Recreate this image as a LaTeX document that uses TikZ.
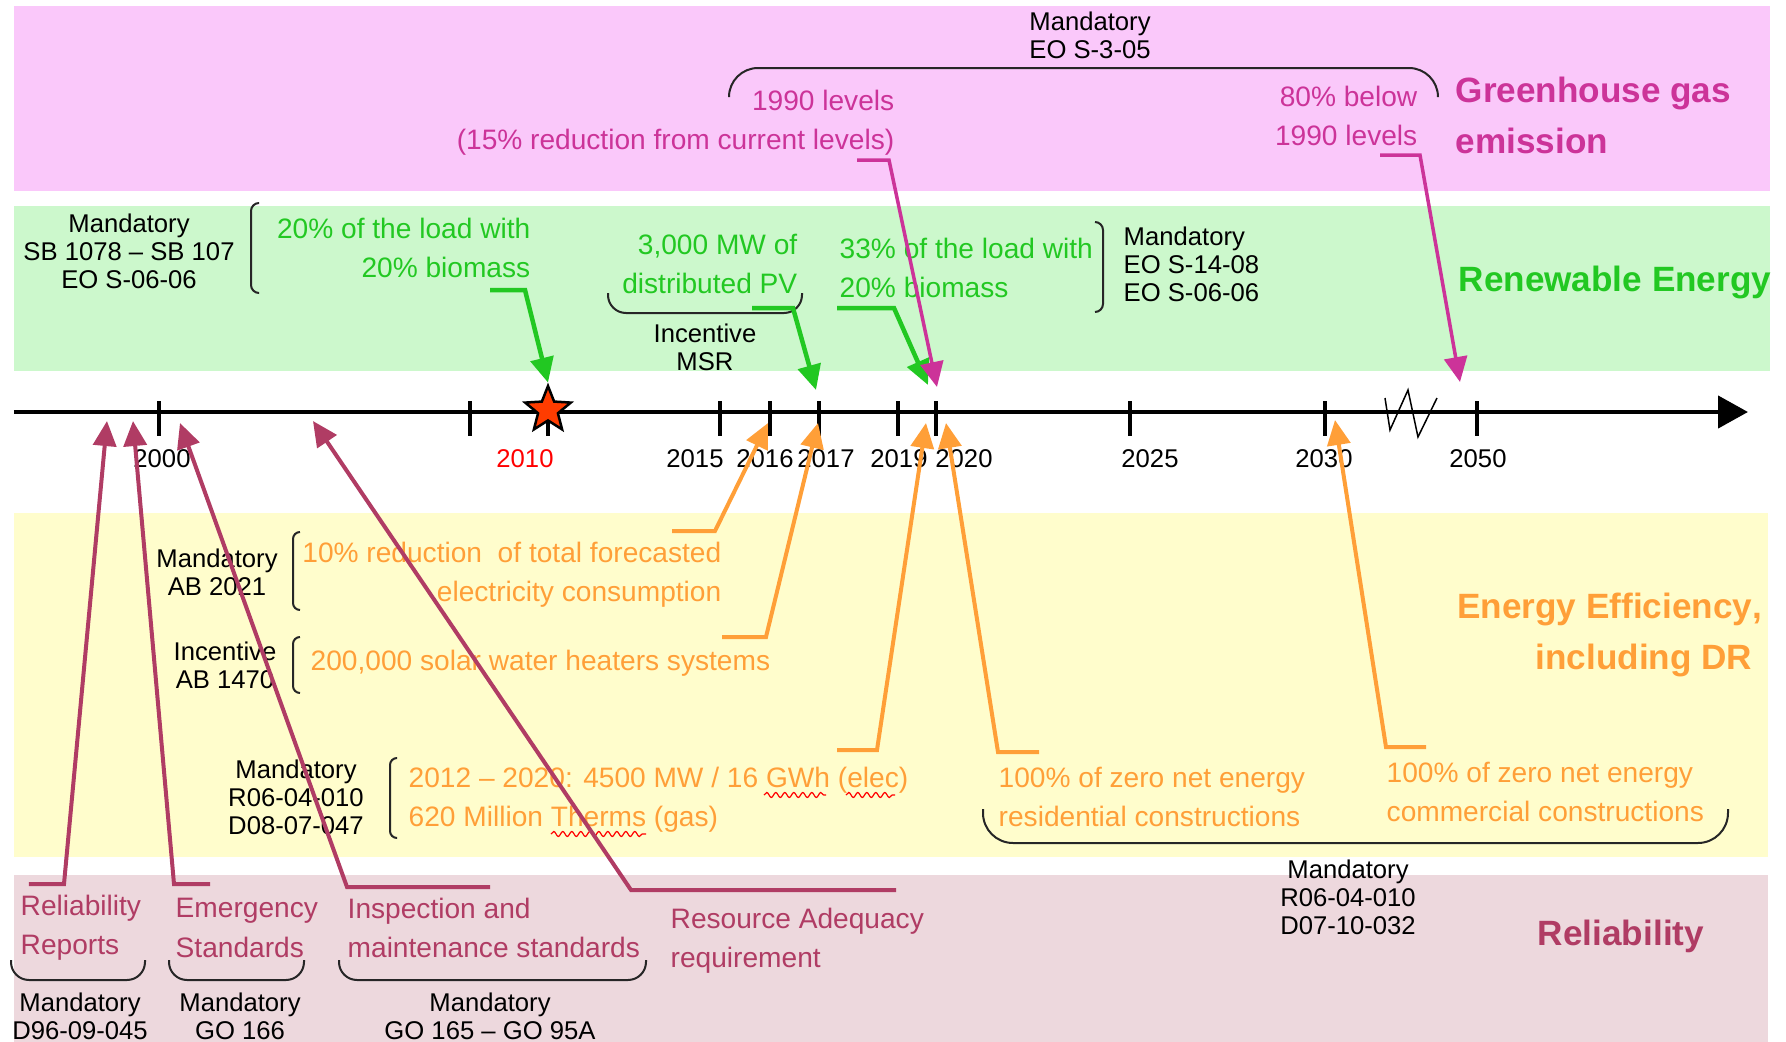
\documentclass[tikz,border=0pt]{standalone}
\usepackage{fontspec}
\setmainfont{Liberation Sans}
\usepackage{tikz}
\usetikzlibrary{arrows.meta,shapes.geometric,decorations.pathmorphing}
\definecolor{ghgband}{HTML}{FAC8FA}
\definecolor{reband}{HTML}{CCF8CC}
\definecolor{eeband}{HTML}{FFFDCC}
\definecolor{relband}{HTML}{EDD8DD}
\definecolor{ghgcol}{HTML}{CC3399}
\definecolor{recol}{HTML}{22C822}
\definecolor{eecol}{HTML}{FF9F38}
\definecolor{relcol}{HTML}{B03C64}
\definecolor{starred}{HTML}{FF3C00}

\tikzset{
  lawtxt/.style={font=\fontsize{7.3}{8}\selectfont,align=center,inner sep=0pt},
  goaltxt/.style={font=\fontsize{8}{11.2}\selectfont,inner sep=0pt},
  areatxt/.style={font=\fontsize{10}{14.5}\selectfont\bfseries,inner sep=0pt},
  yeartxt/.style={font=\fontsize{7.3}{8}\selectfont,inner sep=0pt},
  tickmark/.style={line width=0.35mm},
  leader/.style={line width=0.4mm,-{Triangle[length=2.5mm,width=2.3mm]}},
  bracket/.style={line width=0.2mm,black!85},
  spell/.style={red,line width=0.12mm,decorate,decoration={snake,amplitude=0.25mm,segment length=0.9mm}}
}

\begin{document}
\begin{tikzpicture}[x=1mm,y=-1mm]
\useasboundingbox (0,0) rectangle (178.6,104.2);
\fill[ghgband] (1.4,0.6) rectangle (177.0,19.1);
\fill[reband] (1.4,20.6) rectangle (177.0,37.1);
\fill[eeband] (1.4,51.3) rectangle (176.8,85.7);
\fill[relband] (1.4,87.5) rectangle (176.8,104.2);

% time axis
\draw[line width=0.45mm,-{Triangle[length=3mm,width=3.2mm]}] (1.4,41.2) -- (174.8,41.2);
\foreach \x in {15.9,47.0,54.8,72.0,77.0,81.9,89.8,93.6,113.0,132.5,147.7}
  \draw[tickmark] (\x,40.1) -- (\x,43.6);
\draw[line width=0.15mm] (138.5,39.8) -- (139.0,43.0) -- (140.8,39.0) -- (141.8,43.7) -- (143.7,39.8);
\foreach \x/\yr in {16.2/2000,69.5/2015,76.5/2016,82.6/2017,89.9/2019,96.4/2020,115.0/2025,132.4/2030,147.8/2050}
  \node[yeartxt] (yr\yr) at (\x,45.9) {\yr};
\node[yeartxt,text=red] (yr2010) at (52.5,45.9) {2010};
\node[star,star points=5,star point ratio=2.3,minimum size=4.8mm,inner sep=0pt,fill=starred,draw=black,line width=0.25mm] (star) at (54.8,41.0) {};

% greenhouse gas
\node[lawtxt] (ghgLaw) at (109.0,3.5) {Mandatory\\EO S-3-05};
\draw[bracket,rounded corners=2.9mm] (72.9,9.7) -- (72.9,6.8) -- (143.8,6.8) -- (143.8,9.7);
\node[goaltxt,text=ghgcol,align=right,anchor=east] (ghg2020) at (89.5,12.3) {1990 levels\\(15\% reduction from current levels)};
\node[goaltxt,text=ghgcol,align=right,anchor=east] (ghg2050) at (141.8,11.6) {80\% below\\1990 levels};
\node[areatxt,text=ghgcol,align=left,anchor=west] (ghgArea) at (145.5,11.5) {Greenhouse gas\\emission};

% renewable energy
\node[lawtxt] (reLaw1) at (12.9,25.1) {Mandatory\\SB 1078 – SB 107\\EO S-06-06};
\draw[bracket,rounded corners=0.8mm] (25.9,20.3) -- (25.1,20.3) -- (25.1,29.3) -- (25.9,29.3);
\node[goaltxt,text=recol,align=right,anchor=east] (re2010) at (53.1,24.8) {20\% of the load with\\20\% biomass};
\node[goaltxt,text=recol,align=right,anchor=east] (re2017) at (79.8,26.4) {3,000 MW of\\distributed PV};
\draw[bracket,rounded corners=1.8mm] (60.8,29.3) -- (60.8,31.3) -- (80.2,31.3) -- (80.2,29.3);
\node[lawtxt] (reLaw2) at (70.5,34.7) {Incentive\\MSR};
\node[goaltxt,text=recol,align=left,anchor=west] (re2020) at (83.9,26.8) {33\% of the load with\\20\% biomass};
\draw[bracket,rounded corners=0.8mm] (109.5,22.2) -- (110.3,22.2) -- (110.3,31.2) -- (109.5,31.2);
\node[lawtxt,align=left,anchor=west] (reLaw3) at (112.3,26.4) {Mandatory\\EO S-14-08\\EO S-06-06};
\node[areatxt,text=recol,anchor=west] (reArea) at (145.8,28.2) {Renewable Energy};

% energy efficiency
\node[lawtxt] (eeLaw1) at (21.7,57.2) {Mandatory\\AB 2021};
\draw[bracket,rounded corners=0.7mm] (30.0,53.2) -- (29.3,53.2) -- (29.3,61.0) -- (30.0,61.0);
\node[goaltxt,text=eecol,align=right,anchor=east] (ee2016) at (72.2,57.5) {10\% reduction\ \ of total forecasted\\electricity consumption};
\node[lawtxt] (eeLaw2) at (22.5,66.5) {Incentive\\AB 1470};
\draw[bracket,rounded corners=0.7mm] (30.0,63.7) -- (29.3,63.7) -- (29.3,69.3) -- (30.0,69.3);
\node[goaltxt,text=eecol,anchor=west] (ee2017) at (31.0,66.3) {200,000 solar water heaters systems};
\node[lawtxt] (eeLaw3) at (29.6,79.7) {Mandatory\\R06-04-010\\D08-07-047};
\draw[bracket,rounded corners=0.7mm] (39.7,75.8) -- (39.0,75.8) -- (39.0,83.8) -- (39.7,83.8);
\node[goaltxt,text=eecol,align=left,anchor=west] (ee2020) at (40.8,80.0) {2012 – 2020: 4500 MW / 16 GWh (elec)\\620 Million Therms (gas)};
\draw[spell] (76.4,79.5) -- (82.6,79.5);
\draw[spell] (84.6,79.5) -- (89.5,79.5);
\draw[spell] (55.1,83.4) -- (64.6,83.4);
\node[goaltxt,text=eecol,align=left,anchor=west] (eeRes) at (99.8,79.7) {100\% of zero net energy\\residential constructions};
\node[goaltxt,text=eecol,align=left,anchor=west] (eeCom) at (138.6,79.2) {100\% of zero net energy\\commercial constructions};
\draw[bracket,rounded corners=3mm] (98.3,80.9) -- (98.3,84.3) -- (172.8,84.3) -- (172.8,80.9);
\node[lawtxt] (eeLaw4) at (134.8,89.7) {Mandatory\\R06-04-010\\D07-10-032};
\node[areatxt,text=eecol,align=right,anchor=east] (eeArea) at (175.3,63.5) {Energy Efficiency\rlap{,}\\including DR};

% reliability
\node[goaltxt,text=relcol,align=left,anchor=west] (relRep) at (2.0,92.8) {Reliability\\Reports};
\draw[bracket,rounded corners=1.8mm] (1.1,96.0) -- (1.1,98.0) -- (14.5,98.0) -- (14.5,96.0);
\node[lawtxt] (relLaw1) at (8.0,101.6) {Mandatory\\D96-09-045};
\node[goaltxt,text=relcol,align=left,anchor=west] (relEmg) at (17.5,92.8) {Emergency\\Standards};
\draw[bracket,rounded corners=1.8mm] (16.9,96.0) -- (16.9,98.0) -- (30.4,98.0) -- (30.4,96.0);
\node[lawtxt] (relLaw2) at (24.0,101.6) {Mandatory\\GO 166};
\node[goaltxt,text=relcol,align=left,anchor=west] (relIns) at (34.7,92.8) {Inspection and\\maintenance standards};
\draw[bracket,rounded corners=1.8mm] (33.9,96.0) -- (33.9,98.0) -- (64.6,98.0) -- (64.6,96.0);
\node[lawtxt] (relLaw3) at (49.0,101.6) {Mandatory\\GO 165 – GO 95A};
\node[goaltxt,text=relcol,align=left,anchor=west] (relRes) at (67.0,94.1) {Resource Adequacy\\requirement};
\node[areatxt,text=relcol] (relArea) at (162.1,93.6) {Reliability};

% leader ends
\coordinate (fGhg1) at (85.7,16.0);  \coordinate (tGhg1) at (93.7,38.7);
\coordinate (fGhg2) at (138.0,15.5); \coordinate (tGhg2) at (146.0,38.2);
\coordinate (fRe1) at (49.0,29.0);
\coordinate (fRe2) at (75.2,30.8);   \coordinate (tRe2) at (81.6,39.0);
\coordinate (fRe3) at (83.7,30.8);   \coordinate (tRe3) at (92.8,38.5);
\coordinate (fEe1) at (67.2,53.1);   \coordinate (tEe1) at (76.8,42.3);
\coordinate (fEe2) at (72.2,63.7);   \coordinate (tEe2) at (81.8,42.3);
\coordinate (fEe3) at (83.7,75.0);   \coordinate (tEe3) at (92.6,42.3);
\coordinate (fEe4) at (103.9,75.2);  \coordinate (tEe4) at (94.6,42.3);
\coordinate (fEe5) at (142.6,74.7);  \coordinate (tEe5) at (133.5,42.0);
\coordinate (fRel1) at (2.9,88.4);   \coordinate (tRel1) at (10.7,42.1);
\coordinate (fRel2) at (21.0,88.4);  \coordinate (tRel2) at (13.3,42.1);
\coordinate (fRel3) at (49.0,88.7);  \coordinate (tRel3) at (18.0,42.3);
\coordinate (fRel4) at (89.6,89.0);  \coordinate (tRel4) at (31.3,42.1);

\draw[leader,relcol] (fRel1) -- ++(3.5,0) -- (tRel1);
\draw[leader,relcol] (fRel2) -- ++(-3.6,0) -- (tRel2);
\draw[leader,relcol] (fRel3) -- ++(-14.3,0) -- (tRel3);
\draw[leader,relcol] (fRel4) -- ++(-26.5,0) -- (tRel4);
\draw[leader,eecol] (fEe1) -- ++(4.3,0) -- (tEe1);
\draw[leader,eecol] (fEe2) -- ++(4.4,0) -- (tEe2);
\draw[leader,eecol] (fEe3) -- ++(4.0,0) -- (tEe3);
\draw[leader,eecol] (fEe4) -- ++(-4.1,0) -- (tEe4);
\draw[leader,eecol] (fEe5) -- ++(-4.0,0) -- (tEe5);
\draw[leader,recol,line width=0.45mm] (fRe1) -- ++(3.5,0) -- (star.north);
\draw[leader,recol,line width=0.45mm] (fRe2) -- ++(4.1,0) -- (tRe2);
\draw[leader,recol,line width=0.45mm] (fRe3) -- ++(5.7,0) -- (tRe3);
\draw[leader,ghgcol,line width=0.35mm] (fGhg1) -- ++(3.2,0) -- (tGhg1);
\draw[leader,ghgcol,line width=0.35mm] (fGhg2) -- ++(4.0,0) -- (tGhg2);
\end{tikzpicture}
\end{document}
